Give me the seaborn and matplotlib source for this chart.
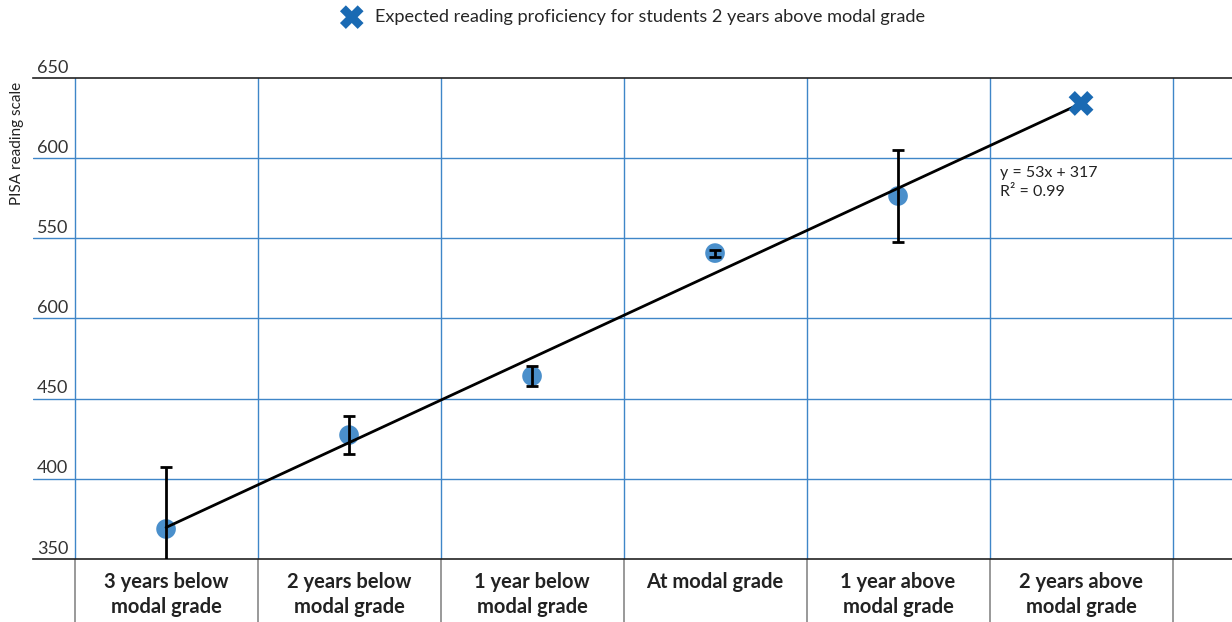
import matplotlib
matplotlib.use("Agg")
import matplotlib.pyplot as plt
import numpy as np
import pandas as pd
import seaborn as sns

categories = ["3 years below\nmodal grade", "2 years below\nmodal grade", "1 year below\nmodal grade",
              "At modal grade", "1 year above\nmodal grade", "2 years above\nmodal grade"]
grade = [1, 2, 3, 4, 5]
score = [368.7, 427.3, 464.1, 540.8, 576.4]
err = [38.6, 11.9, 6.0, 2.2, 29.0]
expected_grade = 6
ytick_vals = [350, 400, 450, 500, 550, 600, 650]
ytick_labels = ["350", "400", "450", "600", "550", "600", "650"]

slope, intercept = np.polyfit(grade, score, 1)
pred = slope * np.array(grade) + intercept
r2 = 1 - np.sum((np.array(score) - pred) ** 2) / np.sum((np.array(score) - np.mean(score)) ** 2)
fit_x = grade + [expected_grade]
fit = pd.DataFrame({"x": fit_x, "y": [slope * g + intercept for g in fit_x]})
expected = fit["y"].iloc[-1]

sns.set_style("white")
plt.rcParams["font.family"] = ["Lato", "DejaVu Sans"]

fig = plt.figure(figsize=(12.32, 6.22), dpi=100)
ax = fig.add_axes([0.0268, 0.1013, 0.9732, 0.7733])

pos = [g - 1 for g in grade]
xcolor = "#1a6ab3"
dotcolor = "#4a8fcb"
grid = "#3f86c8"

ax.set_xlim(-0.727, 5.825)
ax.set_ylim(350, 650)

for v in ytick_vals[1:-1]:
    ax.axhline(v, color=grid, lw=1, zorder=1)
for i in range(len(categories) + 1):
    ax.axvline(i - 0.5, color=grid, lw=1, zorder=1)
ax.vlines([i - 0.5 for i in range(len(categories) + 1)], -0.131, 0,
          transform=ax.get_xaxis_transform(), colors="#888888", lw=1.2, clip_on=False)

sns.scatterplot(x=pos, y=score, ax=ax, color=dotcolor, s=200, edgecolor="none", zorder=3)
sns.lineplot(x=fit["x"] - 1, y=fit["y"], ax=ax, color="black", lw=2, zorder=4)
ax.errorbar(pos, score, yerr=err, fmt="none", ecolor="black", elinewidth=2,
            capsize=4, capthick=2, zorder=5)
ax.scatter([expected_grade - 1], [expected], marker="X", s=320, color=xcolor,
           edgecolor="none", zorder=6, label="Expected reading proficiency for students 2 years above modal grade")

for v, lab in zip(ytick_vals, ytick_labels):
    ax.text(-0.705, v + 1.5, lab, ha="left", va="bottom", fontsize=13, color="#333333")

ax.text(4.555, 595, "y = {:.0f}x + {:.0f}\nR² = {:.2f}".format(slope, intercept, r2),
        ha="left", va="top", fontsize=11.5, color="#222222", linespacing=1.4)

for i, c in enumerate(categories):
    ax.text(i, -0.028, c, transform=ax.get_xaxis_transform(), ha="center", va="top",
            fontsize=14.5, fontweight="bold", color="#222222", linespacing=1.3)

fig.text(0.014, 0.77, "PISA reading scale", rotation=90, ha="center", va="center",
         fontsize=11, color="#222222")

ax.set_xlabel("")
ax.set_ylabel("")
ax.set_xticks([])
ax.set_yticks([])
for s in ["left", "right"]:
    ax.spines[s].set_visible(False)
for s in ["top", "bottom"]:
    ax.spines[s].set_color("#222222")
    ax.spines[s].set_linewidth(1.2)

fig.legend(loc="upper center", bbox_to_anchor=(0.511, 1.012), frameon=False, fontsize=13.1,
           handletextpad=0.3, markerscale=0.95)

fig.savefig("out.png", dpi=100)
